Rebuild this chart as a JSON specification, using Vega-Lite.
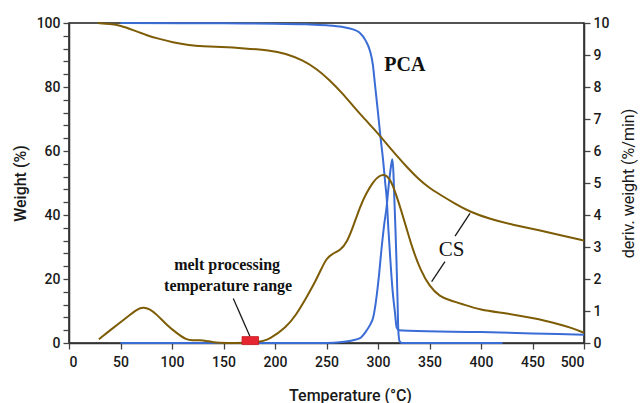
{
  "$schema": "https://vega.github.io/schema/vega-lite/v6.json",
  "width": 515,
  "height": 320,
  "autosize": "none",
  "padding": {"left": 69, "top": 23, "right": 58, "bottom": 60},
  "background": "white",
  "datasets": {
    "weight": [
      {"s": "CS", "T": 28, "W": 100}, {"s": "CS", "T": 40, "W": 99.7}, {"s": "CS", "T": 50, "W": 99.2},
      {"s": "CS", "T": 62, "W": 97.8}, {"s": "CS", "T": 75, "W": 96.2}, {"s": "CS", "T": 88, "W": 95},
      {"s": "CS", "T": 100, "W": 94}, {"s": "CS", "T": 117, "W": 93}, {"s": "CS", "T": 130, "W": 92.7},
      {"s": "CS", "T": 147, "W": 92.5}, {"s": "CS", "T": 170, "W": 92.1}, {"s": "CS", "T": 195, "W": 91.5},
      {"s": "CS", "T": 210, "W": 90.5}, {"s": "CS", "T": 227, "W": 88.4}, {"s": "CS", "T": 240, "W": 85.8},
      {"s": "CS", "T": 253, "W": 82.2}, {"s": "CS", "T": 265, "W": 78.2}, {"s": "CS", "T": 276, "W": 74},
      {"s": "CS", "T": 287, "W": 70}, {"s": "CS", "T": 298, "W": 66.2}, {"s": "CS", "T": 308, "W": 62.4},
      {"s": "CS", "T": 318, "W": 58.6}, {"s": "CS", "T": 328, "W": 55}, {"s": "CS", "T": 340, "W": 51},
      {"s": "CS", "T": 350, "W": 48.4}, {"s": "CS", "T": 360, "W": 46.4}, {"s": "CS", "T": 375, "W": 43.5},
      {"s": "CS", "T": 389, "W": 41}, {"s": "CS", "T": 410, "W": 38.6}, {"s": "CS", "T": 430, "W": 37},
      {"s": "CS", "T": 457, "W": 35.2}, {"s": "CS", "T": 480, "W": 33.5}, {"s": "CS", "T": 500, "W": 32},
      {"s": "PCA", "T": 50, "W": 100}, {"s": "PCA", "T": 150, "W": 99.9}, {"s": "PCA", "T": 200, "W": 99.8},
      {"s": "PCA", "T": 230, "W": 99.6}, {"s": "PCA", "T": 250, "W": 99.3}, {"s": "PCA", "T": 265, "W": 98.8},
      {"s": "PCA", "T": 275, "W": 98.1}, {"s": "PCA", "T": 282, "W": 97}, {"s": "PCA", "T": 288, "W": 94.5},
      {"s": "PCA", "T": 292, "W": 91.5}, {"s": "PCA", "T": 295, "W": 87}, {"s": "PCA", "T": 297, "W": 81},
      {"s": "PCA", "T": 300, "W": 72}, {"s": "PCA", "T": 302, "W": 65.6}, {"s": "PCA", "T": 305, "W": 57},
      {"s": "PCA", "T": 307, "W": 50}, {"s": "PCA", "T": 308.5, "W": 45}, {"s": "PCA", "T": 310, "W": 36},
      {"s": "PCA", "T": 312, "W": 26}, {"s": "PCA", "T": 314, "W": 17}, {"s": "PCA", "T": 316.5, "W": 9.4},
      {"s": "PCA", "T": 318, "W": 5}, {"s": "PCA", "T": 320, "W": 4}, {"s": "PCA", "T": 330, "W": 3.8},
      {"s": "PCA", "T": 400, "W": 3.4}, {"s": "PCA", "T": 450, "W": 3.0}, {"s": "PCA", "T": 500, "W": 2.6}
    ],
    "deriv": [
      {"s": "CS", "T": 29, "D": 0.12}, {"s": "CS", "T": 40, "D": 0.4}, {"s": "CS", "T": 50, "D": 0.65},
      {"s": "CS", "T": 60, "D": 0.9}, {"s": "CS", "T": 66, "D": 1.05}, {"s": "CS", "T": 72, "D": 1.12},
      {"s": "CS", "T": 78, "D": 1.07}, {"s": "CS", "T": 85, "D": 0.9}, {"s": "CS", "T": 95, "D": 0.56},
      {"s": "CS", "T": 105, "D": 0.3}, {"s": "CS", "T": 114, "D": 0.1}, {"s": "CS", "T": 120, "D": 0.08},
      {"s": "CS", "T": 127, "D": 0.09}, {"s": "CS", "T": 133, "D": 0.07}, {"s": "CS", "T": 140, "D": 0.02},
      {"s": "CS", "T": 150, "D": 0}, {"s": "CS", "T": 183, "D": 0}, {"s": "CS", "T": 195, "D": 0.12},
      {"s": "CS", "T": 211, "D": 0.5}, {"s": "CS", "T": 220, "D": 0.85}, {"s": "CS", "T": 231, "D": 1.45},
      {"s": "CS", "T": 238, "D": 1.85}, {"s": "CS", "T": 244, "D": 2.25}, {"s": "CS", "T": 250, "D": 2.65},
      {"s": "CS", "T": 256, "D": 2.8}, {"s": "CS", "T": 263, "D": 2.88}, {"s": "CS", "T": 270, "D": 3.15},
      {"s": "CS", "T": 276, "D": 3.65}, {"s": "CS", "T": 282.5, "D": 4.25}, {"s": "CS", "T": 288, "D": 4.65},
      {"s": "CS", "T": 295.5, "D": 5.05}, {"s": "CS", "T": 301, "D": 5.22}, {"s": "CS", "T": 306, "D": 5.28},
      {"s": "CS", "T": 311, "D": 5.15}, {"s": "CS", "T": 314, "D": 4.95}, {"s": "CS", "T": 318, "D": 4.6},
      {"s": "CS", "T": 322, "D": 4.2}, {"s": "CS", "T": 328, "D": 3.55}, {"s": "CS", "T": 334, "D": 2.9},
      {"s": "CS", "T": 341, "D": 2.3}, {"s": "CS", "T": 350, "D": 1.76}, {"s": "CS", "T": 360, "D": 1.45},
      {"s": "CS", "T": 370, "D": 1.33}, {"s": "CS", "T": 380, "D": 1.24}, {"s": "CS", "T": 399, "D": 1.03},
      {"s": "CS", "T": 425, "D": 0.93}, {"s": "CS", "T": 450, "D": 0.78}, {"s": "CS", "T": 473, "D": 0.62},
      {"s": "CS", "T": 489, "D": 0.46}, {"s": "CS", "T": 500, "D": 0.32},
      {"s": "PCA", "T": 50, "D": 0}, {"s": "PCA", "T": 150, "D": 0}, {"s": "PCA", "T": 250, "D": 0},
      {"s": "PCA", "T": 265, "D": 0.03}, {"s": "PCA", "T": 275, "D": 0.08}, {"s": "PCA", "T": 282.5, "D": 0.15},
      {"s": "PCA", "T": 288, "D": 0.35}, {"s": "PCA", "T": 292, "D": 0.55}, {"s": "PCA", "T": 295.5, "D": 0.82},
      {"s": "PCA", "T": 298, "D": 1.3}, {"s": "PCA", "T": 300.5, "D": 1.97}, {"s": "PCA", "T": 303.6, "D": 3.0},
      {"s": "PCA", "T": 306, "D": 3.7}, {"s": "PCA", "T": 308.4, "D": 4.26}, {"s": "PCA", "T": 310, "D": 4.8},
      {"s": "PCA", "T": 311.7, "D": 5.3}, {"s": "PCA", "T": 313, "D": 5.6}, {"s": "PCA", "T": 314, "D": 5.74},
      {"s": "PCA", "T": 315, "D": 5.3}, {"s": "PCA", "T": 315.8, "D": 4.57}, {"s": "PCA", "T": 317, "D": 3.5},
      {"s": "PCA", "T": 318, "D": 2.5}, {"s": "PCA", "T": 319, "D": 1.3}, {"s": "PCA", "T": 319.7, "D": 0.4},
      {"s": "PCA", "T": 321, "D": 0.05}, {"s": "PCA", "T": 323, "D": 0}, {"s": "PCA", "T": 421, "D": 0}
    ],
    "leaders": [
      {"T1": 389.3, "W1": 40.5, "T2": 374.8, "W2": 33.4},
      {"T1": 365, "W1": 25.4, "T2": 352.1, "W2": 19.2},
      {"T1": 159.5, "W1": 13.9, "T2": 175.7, "W2": 2.0}
    ],
    "range": [{"T1": 168, "T2": 184, "W1": -0.5, "W2": 2.0}],
    "labels": [
      {"T": 326, "W": 87, "text": "PCA", "kind": "big"},
      {"T": 153.5, "W": 24.4, "text": "melt processing", "kind": "small"},
      {"T": 154.5, "W": 17.8, "text": "temperature range", "kind": "small"}
    ],
    "cslabel": [{"T": 371.5, "W": 29, "text": "CS"}]
  },
  "layer": [
    {
      "data": {"name": "weight"},
      "transform": [{"filter": "datum.s == 'PCA'"}],
      "mark": {"type": "line", "strokeWidth": 2, "interpolate": "monotone", "color": "#3a6cd6"},
      "encoding": {
        "x": {
          "field": "T", "type": "quantitative",
          "scale": {"domain": [0, 500], "nice": false},
          "axis": {
            "values": [0, 50, 100, 150, 200, 250, 300, 350, 400, 450, 500],
            "title": "Temperature (°C)",
            "titleX": 281
          }
        },
        "y": {
          "field": "W", "type": "quantitative",
          "scale": {"domain": [0, 100], "nice": false},
          "axis": {
            "orient": "left",
            "values": [0, 4, 8, 12, 16, 20, 24, 28, 32, 36, 40, 44, 48, 52, 56, 60, 64, 68, 72, 76, 80, 84, 88, 92, 96, 100],
            "labelExpr": "datum.value % 20 == 0 ? datum.label : ''",
            "title": "Weight (%)",
            "titlePadding": 8
          }
        },
        "order": {"field": "T", "type": "quantitative"}
      }
    },
    {
      "data": {"name": "deriv"},
      "transform": [{"filter": "datum.s == 'PCA'"}],
      "mark": {"type": "line", "strokeWidth": 2, "interpolate": "monotone", "color": "#3a6cd6"},
      "encoding": {
        "x": {"field": "T", "type": "quantitative"},
        "y": {
          "field": "D", "type": "quantitative",
          "scale": {"domain": [0, 10], "nice": false},
          "axis": {
            "orient": "right",
            "values": [0, 1, 2, 3, 4, 5, 6, 7, 8, 9, 10],
            "title": "deriv. weight (%/min)",
            "titlePadding": 12,
            "titleAngle": 270,
            "titleBaseline": "top",
            "titleFontWeight": "normal"
          }
        },
        "order": {"field": "T", "type": "quantitative"}
      }
    },
    {
      "data": {"name": "weight"},
      "transform": [{"filter": "datum.s == 'CS'"}],
      "mark": {"type": "line", "strokeWidth": 2, "interpolate": "basis", "color": "#7d5c05"},
      "encoding": {
        "x": {"field": "T", "type": "quantitative"},
        "y": {"field": "W", "type": "quantitative", "scale": {"domain": [0, 100], "nice": false}, "axis": null},
        "order": {"field": "T", "type": "quantitative"}
      }
    },
    {
      "data": {"name": "deriv"},
      "transform": [{"filter": "datum.s == 'CS'"}],
      "mark": {"type": "line", "strokeWidth": 2, "interpolate": "basis", "color": "#7d5c05"},
      "encoding": {
        "x": {"field": "T", "type": "quantitative"},
        "y": {"field": "D", "type": "quantitative", "scale": {"domain": [0, 10], "nice": false}, "axis": null},
        "order": {"field": "T", "type": "quantitative"}
      }
    },
    {
      "data": {"name": "leaders"},
      "mark": {"type": "rule", "color": "#1a1a1a", "strokeWidth": 1.3},
      "encoding": {
        "x": {"field": "T1", "type": "quantitative"},
        "x2": {"field": "T2"},
        "y": {"field": "W1", "type": "quantitative", "scale": {"domain": [0, 100], "nice": false}, "axis": null},
        "y2": {"field": "W2"}
      }
    },
    {
      "data": {"name": "range"},
      "mark": {"type": "rect", "color": "#e52630", "stroke": "#c41820", "strokeWidth": 0.8},
      "encoding": {
        "x": {"field": "T1", "type": "quantitative"},
        "x2": {"field": "T2"},
        "y": {"field": "W1", "type": "quantitative", "scale": {"domain": [0, 100], "nice": false}, "axis": null},
        "y2": {"field": "W2"}
      }
    },
    {
      "data": {"name": "labels"},
      "mark": {"type": "text", "font": "Liberation Serif", "fontWeight": "bold", "align": "center", "baseline": "middle", "color": "#111"},
      "encoding": {
        "x": {"field": "T", "type": "quantitative"},
        "y": {"field": "W", "type": "quantitative", "scale": {"domain": [0, 100], "nice": false}, "axis": null},
        "text": {"field": "text"},
        "size": {"field": "kind", "type": "nominal", "scale": {"domain": ["big", "small"], "range": [20, 16]}, "legend": null}
      }
    },
    {
      "data": {"name": "cslabel"},
      "mark": {"type": "text", "font": "Liberation Serif", "fontSize": 21, "align": "center", "baseline": "middle", "color": "#111"},
      "encoding": {
        "x": {"field": "T", "type": "quantitative"},
        "y": {"field": "W", "type": "quantitative", "scale": {"domain": [0, 100], "nice": false}, "axis": null},
        "text": {"field": "text"}
      }
    }
  ],
  "resolve": {"scale": {"y": "independent"}},
  "config": {
    "view": {"stroke": "#1a1a1a", "strokeWidth": 1.5},
    "axis": {
      "grid": false,
      "domainColor": "#333",
      "domainWidth": 1.5,
      "tickColor": "#444",
      "tickSize": 6,
      "tickWidth": 1.3,
      "labelFont": "Roboto",
      "labelFontSize": 14,
      "labelFontWeight": 500,
      "labelColor": "#1a1a1a",
      "labelPadding": 3,
      "titleFont": "Roboto",
      "titleFontSize": 16,
      "titleFontWeight": 500,
      "titleColor": "#1a1a1a"
    },
    "axisX": {"titlePadding": 18, "labelPadding": 6}
  }
}
